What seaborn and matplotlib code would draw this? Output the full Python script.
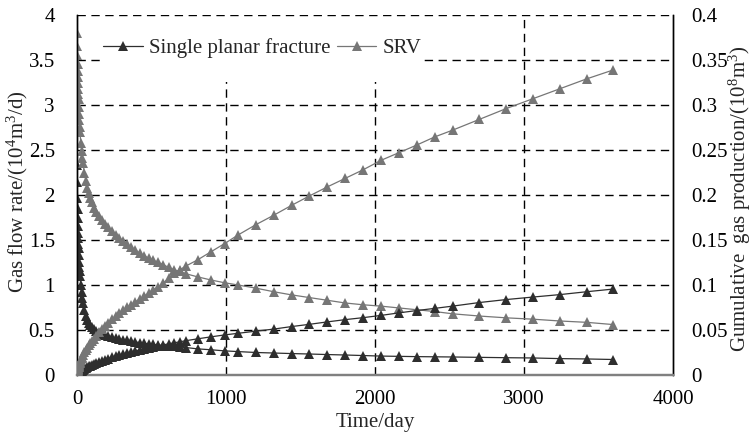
import matplotlib
matplotlib.use("Agg")
import matplotlib.pyplot as plt
from matplotlib.patches import Rectangle
import seaborn as sns
import pandas as pd

# Output times of the simulation (days)
time_days = [1, 2, 3, 4, 5, 6, 7, 8, 9, 10, 12, 14, 16, 18, 20, 25, 30, 35, 40,
             50, 60, 70, 80, 90, 100, 115, 130, 150, 170, 190, 210, 235, 260,
             285, 310, 335, 360, 390, 420, 450, 480, 510, 545, 580, 615, 650,
             690, 730, 810, 900, 990, 1080, 1200, 1320, 1440, 1560, 1680, 1800,
             1920, 2040, 2160, 2280, 2400, 2520, 2700, 2880, 3060, 3240, 3420,
             3600]

# Gas flow rate, 10^4 m^3/d
rate_single = [2.33, 2.14, 1.97, 1.84, 1.74, 1.66, 1.58, 1.52, 1.46, 1.41, 1.33,
               1.26, 1.20, 1.15, 1.10, 1.00, 0.92, 0.86, 0.80, 0.72, 0.66, 0.61,
               0.58, 0.55, 0.53, 0.51, 0.49, 0.47, 0.455, 0.44, 0.43, 0.42, 0.41,
               0.40, 0.39, 0.385, 0.375, 0.367, 0.36, 0.353, 0.346, 0.34, 0.333,
               0.327, 0.322, 0.317, 0.31, 0.305, 0.29, 0.28, 0.268, 0.26, 0.25,
               0.244, 0.238, 0.233, 0.227, 0.222, 0.216, 0.21, 0.207, 0.204,
               0.202, 0.20, 0.196, 0.192, 0.189, 0.182, 0.178, 0.172]
rate_srv = [3.80, 3.66, 3.55, 3.46, 3.38, 3.31, 3.24, 3.18, 3.12, 3.07, 2.98,
            2.90, 2.83, 2.76, 2.70, 2.58, 2.49, 2.41, 2.35, 2.24, 2.15, 2.08,
            2.02, 1.97, 1.92, 1.86, 1.81, 1.77, 1.72, 1.68, 1.64, 1.60, 1.56,
            1.52, 1.49, 1.455, 1.425, 1.39, 1.355, 1.325, 1.30, 1.275, 1.25,
            1.225, 1.195, 1.17, 1.15, 1.125, 1.09, 1.055, 1.025, 1.00, 0.965,
            0.925, 0.89, 0.86, 0.83, 0.80, 0.78, 0.765, 0.745, 0.725, 0.705,
            0.68, 0.655, 0.635, 0.62, 0.60, 0.585, 0.56]

# Cumulative gas production, 10^8 m^3
cum_single = [0.0002, 0.0004, 0.0006, 0.0008, 0.0010, 0.0012, 0.0014, 0.0016,
              0.0017, 0.0019, 0.0022, 0.0025, 0.0028, 0.0031, 0.0033, 0.0040,
              0.0046, 0.0052, 0.0058, 0.0068, 0.0078, 0.0087, 0.0096, 0.0104,
              0.0112, 0.0123, 0.0134, 0.0148, 0.0160, 0.0172, 0.0183, 0.0196,
              0.0208, 0.0220, 0.0231, 0.0242, 0.0253, 0.0265, 0.0277, 0.0289,
              0.0300, 0.0311, 0.0323, 0.0335, 0.0346, 0.0357, 0.0369, 0.0381,
              0.0402, 0.0424, 0.0445, 0.0463, 0.0487, 0.0510, 0.0538, 0.0563,
              0.0590, 0.0615, 0.0637, 0.0662, 0.0690, 0.0716, 0.0740, 0.0765,
              0.0805, 0.0838, 0.0866, 0.0893, 0.0925, 0.0955]
cum_srv = [0.0010, 0.0020, 0.0029, 0.0038, 0.0047, 0.0055, 0.0063, 0.0071,
           0.0078, 0.0085, 0.0098, 0.0110, 0.0121, 0.0132, 0.0142, 0.0164,
           0.0184, 0.0202, 0.0219, 0.0250, 0.0278, 0.0304, 0.0328, 0.0351,
           0.0373, 0.0404, 0.0434, 0.0473, 0.0510, 0.0545, 0.0580, 0.0620,
           0.0655, 0.0690, 0.0720, 0.0750, 0.0780, 0.0810, 0.0845, 0.0875,
           0.0910, 0.0945, 0.0980, 0.1020, 0.1080, 0.1130, 0.1170, 0.1210,
           0.1280, 0.1370, 0.1460, 0.1555, 0.1670, 0.1775, 0.1885, 0.1990,
           0.2090, 0.2185, 0.2280, 0.2385, 0.2470, 0.2555, 0.2645, 0.2720,
           0.2840, 0.2960, 0.3070, 0.3180, 0.3290, 0.3390]

series_labels = ["Single planar fracture", "SRV"]
x_ticks = [0, 1000, 2000, 3000, 4000]
left_ticks = [0, 0.5, 1, 1.5, 2, 2.5, 3, 3.5, 4]
right_ticks = [0, 0.05, 0.1, 0.15, 0.2, 0.25, 0.3, 0.35, 0.4]

sns.set_theme(style="white")
plt.rcParams["font.family"] = ["Liberation Serif", "DejaVu Serif"]
plt.rcParams["mathtext.fontset"] = "custom"
plt.rcParams["mathtext.rm"] = "Liberation Serif"
plt.rcParams["mathtext.it"] = "Liberation Serif:italic"

df = pd.DataFrame({"t": time_days, "rate_single": rate_single,
                   "rate_srv": rate_srv, "cum_single": cum_single,
                   "cum_srv": cum_srv})

dark = "#2e2e2e"
grey = "#767676"
fs = 15

fig = plt.figure(figsize=(7.53, 4.41), dpi=100)
ax = fig.add_axes([0.1023, 0.1497, 0.7915, 0.8163])
ax2 = ax.twinx()

mk = dict(marker="^", markersize=7.8, markeredgewidth=0, estimator=None,
          sort=False, linewidth=0.9)
sns.lineplot(data=df, x="t", y="rate_single", ax=ax, color=dark,
             markerfacecolor=dark, label=series_labels[0], zorder=3, **mk)
sns.lineplot(data=df, x="t", y="rate_srv", ax=ax, color=grey,
             markerfacecolor=grey, label=series_labels[1], zorder=3, **mk)
sns.lineplot(data=df, x="t", y="cum_single", ax=ax2, color=dark,
             markerfacecolor=dark, legend=False, zorder=3, **mk)
sns.lineplot(data=df, x="t", y="cum_srv", ax=ax2, color=grey,
             markerfacecolor=grey, legend=False, zorder=3, **mk)

ax.set_xlim(0, 4000)
ax.set_ylim(0, 4)
ax2.set_ylim(0, 0.4)
ax.set_xticks(x_ticks)
ax.set_yticks(left_ticks)
ax2.set_yticks(right_ticks)
ax.set_xticklabels([str(v) for v in x_ticks])
ax.set_yticklabels([f"{v:g}" for v in left_ticks])
ax2.set_yticklabels([f"{v:g}" for v in right_ticks])

# dashed grid: horizontal at every major step, vertical only inside
ax.set_axisbelow(True)
for yv in left_ticks[1:]:
    ax.axhline(yv, color="black", lw=1.0, ls=(0, (6, 4)), zorder=0.5)
for xv in x_ticks[1:-1]:
    ax.axvline(xv, color="black", lw=1.0, ls=(0, (6, 4)), zorder=0.5)
ax.grid(False)
ax2.grid(False)

for a in (ax, ax2):
    a.tick_params(length=0, labelsize=fs, colors="black")
ax.tick_params(axis="y", pad=16)
ax.tick_params(axis="x", pad=11)
ax2.tick_params(axis="y", pad=13)

for a in (ax, ax2):
    a.spines["top"].set_visible(False)
    a.spines["left"].set_color("black")
    a.spines["left"].set_linewidth(1.0)
    a.spines["right"].set_color("black")
    a.spines["right"].set_linewidth(1.0)
    a.spines["bottom"].set_color("#808080")
    a.spines["bottom"].set_linewidth(1.6)

ax.set_xlabel("Time/day", fontsize=fs, labelpad=3)
ax.set_ylabel("")
ax2.set_ylabel("")
fig.text(17 / 753, 1 - 192 / 441, "Gas flow rate/(10$^{4}$m$^{3}$/d)",
         rotation=90, ha="center", va="center", fontsize=fs)
fig.text(740 / 753, 1 - 199 / 441,
         "Gumulative  gas production/(10$^{8}$m$^{3}$)",
         rotation=90, ha="center", va="center", fontsize=fs)

# white panel behind the legend
ax.add_patch(Rectangle((0.0386, 0.814), 0.5365, 0.181, transform=ax.transAxes,
                       facecolor="white", edgecolor="none", zorder=1))
handles, labels = ax.get_legend_handles_labels()
ax.legend(handles, labels, loc="upper left", bbox_to_anchor=(0.03, 0.958),
          ncol=2, frameon=False, fontsize=fs, handlelength=1.9,
          handletextpad=0.3, columnspacing=0.3, borderaxespad=0)

fig.savefig("out.png", dpi=100)
